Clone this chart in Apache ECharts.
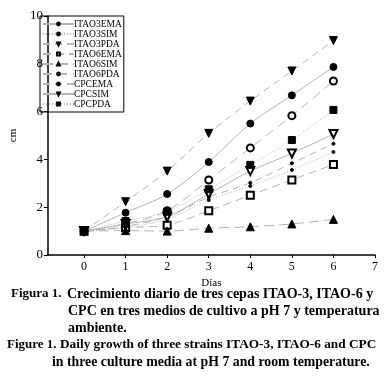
<!DOCTYPE html>
<html>
<head>
<meta charset="utf-8">
<script src="https://cdn.jsdelivr.net/npm/echarts@6/dist/echarts.min.js"></script>
<style>
html, body { margin: 0; padding: 0; background: #fff; }
#chartContainer { width: 384px; height: 379px; }
</style>
</head>
<body>
<div id="chartContainer"></div>
<script>
// dias 0..6
var dias = [0, 1, 2, 3, 4, 5, 6];
var xTicks = [0, 1, 2, 3, 4, 5, 6, 7];

var ITAO3EMA = [1, 1.77, 2.55, 3.89, 5.5, 6.68, 7.87];
var ITAO3SIM = [1, 1.15, 1.5, 2.3, 2.89, 3.56, 4.31];
var ITAO3PDA = [1, 2.23, 3.51, 5.09, 6.44, 7.7, 8.97];
var ITAO6EMA = [1, 1.15, 1.25, 1.85, 2.5, 3.14, 3.79];
var ITAO6SIM = [1, 1.02, 1.0, 1.12, 1.18, 1.3, 1.49];
var ITAO6PDA = [1, 1.3, 1.85, 3.14, 4.48, 5.83, 7.28];
var CPCEMA = [1, 1.2, 1.6, 2.42, 3.02, 3.84, 4.66];
var CPCSIM = [1, 1.3, 1.6, 2.55, 3.51, 4.25, 5.06];
var CPCPDA = [1, 1.42, 1.81, 2.75, 3.77, 4.81, 6.07];

var font = 'Liberation Serif';
var gris = '#b4b4b4';

function pares(vals) {
	var out = [];
	for (var i = 0; i < dias.length; i++) {
		out.push([dias[i], vals[i]]);
	}
	return out;
}

function serie(nombre, vals, symbol, size, lineType, rotate) {
	return {
		type: 'line',
		name: nombre,
		data: pares(vals),
		smooth: 0.3,
		symbol: symbol,
		symbolSize: size,
		symbolRotate: rotate || 0,
		lineStyle: { color: gris, width: 1, type: lineType },
		itemStyle: { color: '#000', borderColor: '#000', borderWidth: 1 },
		emphasis: { disabled: true }
	};
}

var capFont = 'bold 14px "Liberation Serif"';

var myChart = echarts.init(document.getElementById('chartContainer'));
var option = {
	animation: false,
	backgroundColor: '#fff',
	grid: { left: 36, right: 9, top: 16, bottom: 124 },
	legend: {
		orient: 'vertical',
		left: 40,
		top: 16,
		padding: [3, 2, 3, 2],
		itemGap: 0,
		itemWidth: 31,
		itemHeight: 3.5,
		borderColor: '#000',
		borderWidth: 1,
		textStyle: { fontFamily: font, fontSize: 9.5, color: '#000', lineHeight: 8.6, padding: [0, 0, 0, -5] },
		data: ['ITAO3EMA', 'ITAO3SIM', 'ITAO3PDA', 'ITAO6EMA', 'ITAO6SIM', 'ITAO6PDA', 'CPCEMA', 'CPCSIM', 'CPCPDA']
	},
	xAxis: {
		type: 'value',
		min: -0.87,
		max: 7,
		name: 'Días',
		nameLocation: 'middle',
		nameGap: 20,
		nameTextStyle: { fontFamily: font, fontSize: 11, color: '#000' },
		axisLine: { onZero: false, lineStyle: { color: '#000', width: 1.5 } },
		axisTick: { show: true, length: 3, customValues: xTicks, lineStyle: { color: '#000' } },
		axisLabel: { customValues: xTicks, fontFamily: font, fontSize: 12, color: '#000', margin: 6 },
		splitLine: { show: false }
	},
	yAxis: {
		type: 'value',
		min: 0,
		max: 10,
		interval: 2,
		name: 'cm',
		nameLocation: 'middle',
		nameGap: 20,
		nameRotate: 90,
		nameTextStyle: { fontFamily: font, fontSize: 11, color: '#000' },
		axisLine: { show: true, onZero: false, lineStyle: { color: '#000', width: 1.5 } },
		axisTick: { show: true, length: 4, lineStyle: { color: '#000' } },
		axisLabel: { fontFamily: font, fontSize: 13, color: '#000', margin: 5 },
		splitLine: { show: false }
	},
	series: [
		serie('ITAO3EMA', ITAO3EMA, 'circle', 7, 'solid'),
		serie('ITAO3SIM', ITAO3SIM, 'circle', 3, [1, 2]),
		serie('ITAO3PDA', ITAO3PDA, 'triangle', 8, [7, 5], 180),
		serie('ITAO6EMA', ITAO6EMA, 'emptyRect', 7, [8, 5]),
		serie('ITAO6SIM', ITAO6SIM, 'triangle', 8, [10, 5]),
		serie('ITAO6PDA', ITAO6PDA, 'emptyCircle', 7, [9, 6]),
		serie('CPCEMA', CPCEMA, 'circle', 3, [7, 5]),
		serie('CPCSIM', CPCSIM, 'emptyTriangle', 8, 'solid', 180),
		serie('CPCPDA', CPCPDA, 'rect', 7, [1, 2])
	],
	graphic: [
		{ type: 'text', left: 11, top: 287, style: { text: 'Figura 1.', font: 'bold 13px "Liberation Serif"', fill: '#000' } },
		{ type: 'text', left: 67, top: 287, style: { text: 'Crecimiento diario de tres cepas ITAO-3, ITAO-6 y', font: capFont, fill: '#000' } },
		{ type: 'text', left: 68, top: 304, style: { text: 'CPC en tres medios de cultivo a pH 7 y temperatura', font: capFont, fill: '#000' } },
		{ type: 'text', left: 68, top: 321, style: { text: 'ambiente.', font: capFont, fill: '#000' } },
		{ type: 'text', left: 7, top: 338, style: { text: 'Figure 1.', font: 'bold 13px "Liberation Serif"', fill: '#000' } },
		{ type: 'text', left: 60, top: 338, style: { text: 'Daily growth of three strains ITAO-3, ITAO-6 and CPC', font: 'bold 13.3px "Liberation Serif"', fill: '#000' } },
		{ type: 'text', left: 52, top: 355, style: { text: 'in three culture media at pH 7 and room temperature.', font: 'bold 13.8px "Liberation Serif"', fill: '#000' } }
	]
};
myChart.setOption(option);
</script>
</body>
</html>
